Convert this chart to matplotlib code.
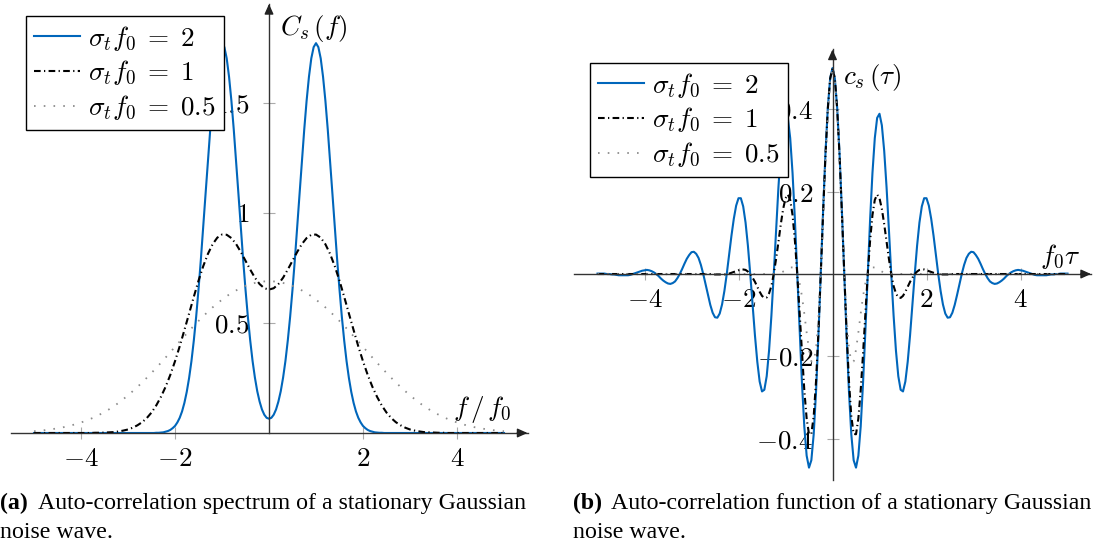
import numpy as np
import matplotlib
matplotlib.use('Agg')
import matplotlib.pyplot as plt

plt.rcParams['mathtext.fontset'] = 'cm'
plt.rcParams['font.family'] = ['Liberation Serif', 'DejaVu Serif']

# ---------------- data ----------------
series_labels = [r'$\sigma_t f_0 \;=\; 2$', r'$\sigma_t f_0 \;=\; 1$', r'$\sigma_t f_0 \;=\; 0.5$']

# (a) spectrum C_s(f), f/f0 sampled on [-5, 5]
f_fine = np.linspace(-5, 5, 201)      # step 0.05 (sigma_t f0 = 2)
f_coarse = np.linspace(-5, 5, 101)    # step 0.1  (sigma_t f0 = 1 and 0.5)

Cs_2 = [
    0, 0, 0, 0, 0, 0, 0, 0, 0, 0,
    0, 0, 0, 0, 0, 0, 0, 0, 0, 0,
    0, 0, 0, 0, 0, 0, 0, 0, 0, 0,
    0, 0, 0, 0, 0, 0, 0, 0, 0, 0,
    0, 0, 0, 0, 0, 0, 0, 0, 0, 0,
    0, 0,
    0.001, 0.001, 0.002, 0.003, 0.006, 0.009, 0.014, 0.022, 0.032, 0.048,
    0.069, 0.098, 0.137, 0.187, 0.250, 0.327, 0.420, 0.528, 0.652, 0.788,
    0.934, 1.086, 1.236, 1.380, 1.510, 1.619, 1.703, 1.754, 1.772, 1.754,
    1.703, 1.619, 1.510, 1.380, 1.236, 1.086, 0.934, 0.788, 0.652, 0.529,
    0.421, 0.328, 0.252, 0.190, 0.143, 0.107, 0.083, 0.069,
    0.065,
    0.069, 0.083, 0.107, 0.143, 0.190, 0.252, 0.328, 0.421, 0.529, 0.652,
    0.788, 0.934, 1.086, 1.236, 1.380, 1.510, 1.619, 1.703, 1.754, 1.772,
    1.754, 1.703, 1.619, 1.510, 1.380, 1.236, 1.086, 0.934, 0.788, 0.652,
    0.528, 0.420, 0.327, 0.250, 0.187, 0.137, 0.098, 0.069, 0.048, 0.032,
    0.022, 0.014, 0.009, 0.006, 0.003, 0.002, 0.001, 0.001,
    0, 0, 0, 0, 0, 0, 0, 0, 0, 0,
    0, 0, 0, 0, 0, 0, 0, 0, 0, 0,
    0, 0, 0, 0, 0, 0, 0, 0, 0, 0,
    0, 0, 0, 0, 0, 0, 0, 0, 0, 0,
    0, 0, 0, 0, 0, 0, 0, 0, 0, 0,
    0, 0,
]

Cs_1 = [
    0, 0, 0, 0, 0, 0, 0, 0, 0, 0, 0, 0, 0,
    0.001, 0.001, 0.002, 0.003, 0.004, 0.007, 0.011, 0.016, 0.024, 0.035,
    0.049, 0.068, 0.093, 0.125, 0.164, 0.210, 0.264, 0.326, 0.394, 0.468,
    0.543, 0.619, 0.692, 0.758, 0.814, 0.858, 0.888, 0.902, 0.901, 0.886,
    0.859, 0.823, 0.783, 0.743, 0.706, 0.677, 0.658,
    0.652,
    0.658, 0.677, 0.706, 0.743, 0.783, 0.823, 0.859, 0.886, 0.901, 0.902,
    0.888, 0.858, 0.814, 0.758, 0.692, 0.619, 0.543, 0.468, 0.394, 0.326,
    0.264, 0.210, 0.164, 0.125, 0.093, 0.068, 0.049, 0.035, 0.024, 0.016,
    0.011, 0.007, 0.004, 0.003, 0.002, 0.001, 0.001,
    0, 0, 0, 0, 0, 0, 0, 0, 0, 0, 0, 0, 0,
]

Cs_05 = [
    0.008, 0.010, 0.012, 0.015, 0.018, 0.021, 0.025, 0.030, 0.035, 0.041,
    0.048, 0.055, 0.064, 0.073, 0.084, 0.096, 0.108, 0.122, 0.137, 0.154,
    0.171, 0.190, 0.209, 0.230, 0.251, 0.273, 0.296, 0.319, 0.343, 0.367,
    0.392, 0.416, 0.440, 0.464, 0.487, 0.509, 0.531, 0.551, 0.571, 0.589,
    0.606, 0.622, 0.636, 0.648, 0.659, 0.669, 0.676, 0.682, 0.687, 0.689,
    0.690,
    0.689, 0.687, 0.682, 0.676, 0.669, 0.659, 0.648, 0.636, 0.622, 0.606,
    0.589, 0.571, 0.551, 0.531, 0.509, 0.487, 0.464, 0.440, 0.416, 0.392,
    0.367, 0.343, 0.319, 0.296, 0.273, 0.251, 0.230, 0.209, 0.190, 0.171,
    0.154, 0.137, 0.122, 0.108, 0.096, 0.084, 0.073, 0.064, 0.055, 0.048,
    0.041, 0.035, 0.030, 0.025, 0.021, 0.018, 0.015, 0.012, 0.010, 0.008,
]

# (b) auto-correlation c_s(tau), f0*tau sampled on [-5, 5] with step 0.05
tau = np.linspace(-5, 5, 201)

cs_2 = [
    0.001, 0.001, 0.001, 0.001, 0, 0, -0.001, -0.001, -0.002, -0.003, -0.003,
    -0.003, -0.003, -0.003, -0.002, 0, 0.002, 0.004, 0.006, 0.008, 0.009,
    0.010, 0.009, 0.007, 0.004, 0, -0.005, -0.011, -0.016, -0.020, -0.023,
    -0.024, -0.022, -0.018, -0.010, 0, 0.012, 0.025, 0.037, 0.046, 0.053,
    0.054, 0.049, 0.039, 0.022, 0, -0.025, -0.051, -0.075, -0.094, -0.105,
    -0.106, -0.096, -0.074, -0.041, 0, 0.046, 0.093, 0.134, 0.166, 0.184,
    0.184, 0.164, 0.125, 0.069, 0, -0.075, -0.149, -0.213, -0.261, -0.285,
    -0.281, -0.248, -0.186, -0.101, 0, 0.108, 0.211, 0.299, 0.361, 0.389,
    0.379, 0.330, 0.245, 0.132, 0, -0.137, -0.264, -0.370, -0.441, -0.470,
    -0.452, -0.389, -0.285, -0.151, 0, 0.153, 0.292, 0.403, 0.475,
    0.500,
    0.475, 0.403, 0.292, 0.153, 0, -0.151, -0.285, -0.389, -0.452,
    -0.470, -0.441, -0.370, -0.264, -0.137, 0, 0.132, 0.245, 0.330, 0.379,
    0.389, 0.361, 0.299, 0.211, 0.108, 0, -0.101, -0.186, -0.248, -0.281,
    -0.285, -0.261, -0.213, -0.149, -0.075, 0, 0.069, 0.125, 0.164, 0.184,
    0.184, 0.166, 0.134, 0.093, 0.046, 0, -0.041, -0.074, -0.096, -0.106,
    -0.105, -0.094, -0.075, -0.051, -0.025, 0, 0.022, 0.039, 0.049, 0.054,
    0.053, 0.046, 0.037, 0.025, 0.012, 0, -0.010, -0.018, -0.022, -0.024,
    -0.023, -0.020, -0.016, -0.011, -0.005, 0, 0.004, 0.007, 0.009, 0.010,
    0.009, 0.008, 0.006, 0.004, 0.002, 0, -0.002, -0.003, -0.003, -0.003,
    -0.003, -0.003, -0.002, -0.001, -0.001, 0, 0, 0.001, 0.001, 0.001, 0.001,
]

cs_1 = [
    0, 0, 0, 0, 0, 0, 0, 0, 0, 0,
    0, 0, 0, 0, 0, 0, 0, 0, 0, 0,
    0, 0, 0, 0, 0, 0, 0, 0, 0, 0,
    0, 0, 0, 0, 0, 0, 0, 0, 0, 0,
    0, 0, 0, 0, 0, 0, 0, 0, 0, 0,
    -0.001, -0.001, -0.001, -0.001, -0.001, 0, 0.001, 0.003, 0.005, 0.007, 0.009,
    0.011, 0.011, 0.010, 0.006, 0, -0.009, -0.019, -0.031, -0.043, -0.053,
    -0.058, -0.057, -0.047, -0.029, 0, 0.037, 0.078, 0.121, 0.158, 0.184,
    0.193, 0.180, 0.143, 0.081, 0, -0.095, -0.193, -0.282, -0.351, -0.389,
    -0.388, -0.345, -0.260, -0.141, 0, 0.148, 0.287, 0.400, 0.474,
    0.500,
    0.474, 0.400, 0.287, 0.148, 0, -0.141, -0.260, -0.345, -0.388,
    -0.389, -0.351, -0.282, -0.193, -0.095, 0, 0.081, 0.143, 0.180, 0.193,
    0.184, 0.158, 0.121, 0.078, 0.037, 0, -0.029, -0.047, -0.057, -0.058,
    -0.053, -0.043, -0.031, -0.019, -0.009, 0, 0.006, 0.010, 0.011, 0.011,
    0.009, 0.007, 0.005, 0.003, 0.001, 0, -0.001, -0.001, -0.001, -0.001, -0.001,
    0, 0, 0, 0, 0, 0, 0, 0, 0, 0,
    0, 0, 0, 0, 0, 0, 0, 0, 0, 0,
    0, 0, 0, 0, 0, 0, 0, 0, 0, 0,
    0, 0, 0, 0, 0, 0, 0, 0, 0, 0,
    0, 0, 0, 0, 0, 0, 0, 0, 0, 0,
]

cs_05 = [
    0, 0, 0, 0, 0, 0, 0, 0, 0, 0,
    0, 0, 0, 0, 0, 0, 0, 0, 0, 0,
    0, 0, 0, 0, 0, 0, 0, 0, 0, 0,
    0, 0, 0, 0, 0, 0, 0, 0, 0, 0,
    0, 0, 0, 0, 0, 0, 0, 0, 0, 0,
    0, 0, 0, 0, 0, 0, 0, 0, 0, 0,
    0, 0, 0, 0, 0, 0, 0, 0, 0, 0,
    0, 0, 0, 0, 0, 0, 0,
    0.001, 0.003, 0.006, 0.009, 0.013, 0.016, 0.016, 0.012, 0, -0.022,
    -0.054, -0.096, -0.142, -0.184, -0.212, -0.213, -0.180, -0.108, 0, 0.132,
    0.269, 0.389, 0.471,
    0.500,
    0.471, 0.389, 0.269, 0.132, 0, -0.108, -0.180, -0.213, -0.212, -0.184,
    -0.142, -0.096, -0.054, -0.022, 0, 0.012, 0.016, 0.016, 0.013, 0.009,
    0.006, 0.003, 0.001,
    0, 0, 0, 0, 0, 0, 0, 0, 0, 0,
    0, 0, 0, 0, 0, 0, 0, 0, 0, 0,
    0, 0, 0, 0, 0, 0, 0, 0, 0, 0,
    0, 0, 0, 0, 0, 0, 0, 0, 0, 0,
    0, 0, 0, 0, 0, 0, 0, 0, 0, 0,
    0, 0, 0, 0, 0, 0, 0, 0, 0, 0,
    0, 0, 0, 0, 0, 0, 0, 0, 0, 0,
    0, 0, 0, 0, 0, 0, 0,
]

x_ticks = [-4, -2, 2, 4]
x_ticklabels = ['$-4$', '$-2$', '$2$', '$4$']
yL_ticks = [0.5, 1, 1.5]
yL_ticklabels = ['$0.5$', '$1$', '$1.5$']
yR_ticks = [-0.4, -0.2, 0.2, 0.4]
yR_ticklabels = ['$-0.4$', '$-0.2$', '$0.2$', '$0.4$']

# ---------------- figure ----------------
W, H = 1094, 551
fig = plt.figure(figsize=(W / 100, H / 100), dpi=100)
axL = fig.add_axes([10.5 / W, (H - 433) / H, 517 / W, 429 / H])
axR = fig.add_axes([574 / W, (H - 480) / H, 517 / W, 430.5 / H])

blue = '#0066BB'
styles = [dict(color=blue, lw=1.5, ls='-'),
          dict(color='black', lw=1.5, ls=(0, (3.2, 1.6, 0.6, 1.6))),
          dict(color='#8c8c8c', lw=1.3, ls=(0, (0.9, 4.5)))]
FS = 19.5

left_series = [(f_fine, Cs_2), (f_coarse, Cs_1), (f_coarse, Cs_05)]
right_series = [(tau, cs_2), (tau, cs_1), (tau, cs_05)]

for ax, series, yl in ((axL, left_series, (0, 1.95)), (axR, right_series, (-0.5, 0.545))):
    for (x, y), lab, st in zip(series, series_labels, styles):
        ax.plot(x, y, label=lab, **st)
    ax.set_xlim(-5.5, 5.5)
    ax.set_ylim(*yl)
    for s in ('top', 'right'):
        ax.spines[s].set_visible(False)
    for s in ('left', 'bottom'):
        ax.spines[s].set_position(('data', 0))
        ax.spines[s].set_color('#333333')
        ax.spines[s].set_linewidth(1.0)
    ax.tick_params(direction='inout', length=8, width=0.8, color='#aaaaaa', labelsize=FS)
    ax.tick_params(axis='x', pad=6)
    ax.tick_params(axis='y', pad=10)
    ax.patch.set_alpha(0)
    arrow = dict(arrowstyle='-|>,head_length=0.4,head_width=0.18', color='#222222',
                 lw=1, mutation_scale=15, shrinkA=0, shrinkB=0)
    ax.annotate('', xy=(1, 0), xycoords=('axes fraction', 'data'), xytext=(0.98, 0), arrowprops=arrow)
    ax.annotate('', xy=(0, 1), xycoords=('data', 'axes fraction'), xytext=(0, 0.98), arrowprops=arrow)

axL.set_xticks(x_ticks, labels=x_ticklabels)
axL.set_yticks(yL_ticks, labels=yL_ticklabels)
axR.set_xticks(x_ticks, labels=x_ticklabels)
axR.set_yticks(yR_ticks, labels=yR_ticklabels)

axL.text(0.23, 1.84, r'$C_s\,(f)$', fontsize=FS, ha='left', va='center')
axL.text(4.53, 0.105, r'$f\,/\,f_0$', fontsize=FS, ha='center', va='center')
axR.text(0.22, 0.476, r'$c_s\,(\tau)$', fontsize=FS, ha='left', va='center')
axR.text(4.84, 0.041, r'$f_0\tau$', fontsize=FS, ha='center', va='center')

for ax, (lx, ly) in ((axL, (26, 16)), (axR, (590, 63))):
    leg = ax.legend(loc='upper left', bbox_to_anchor=(lx / W, 1 - ly / H), bbox_transform=fig.transFigure,
                    borderaxespad=0, fontsize=FS, fancybox=False, framealpha=1, edgecolor='black',
                    handlelength=1.7, handletextpad=0.3, labelspacing=0.22, borderpad=0.3)
    leg.get_frame().set_linewidth(1.0)

cap = 17.2
fig.text(0 / W, 1 - 503 / H, '(a)', fontsize=cap, weight='bold', va='center')
fig.text(38 / W, 1 - 503 / H, 'Auto-correlation spectrum of a stationary Gaussian', fontsize=cap, va='center')
fig.text(0 / W, 1 - 532 / H, 'noise wave.', fontsize=cap, va='center')
fig.text(573 / W, 1 - 503 / H, '(b)', fontsize=cap, weight='bold', va='center')
fig.text(611 / W, 1 - 503 / H, 'Auto-correlation function of a stationary Gaussian', fontsize=cap, va='center')
fig.text(573 / W, 1 - 532 / H, 'noise wave.', fontsize=cap, va='center')

fig.savefig('out.png', dpi=100)
